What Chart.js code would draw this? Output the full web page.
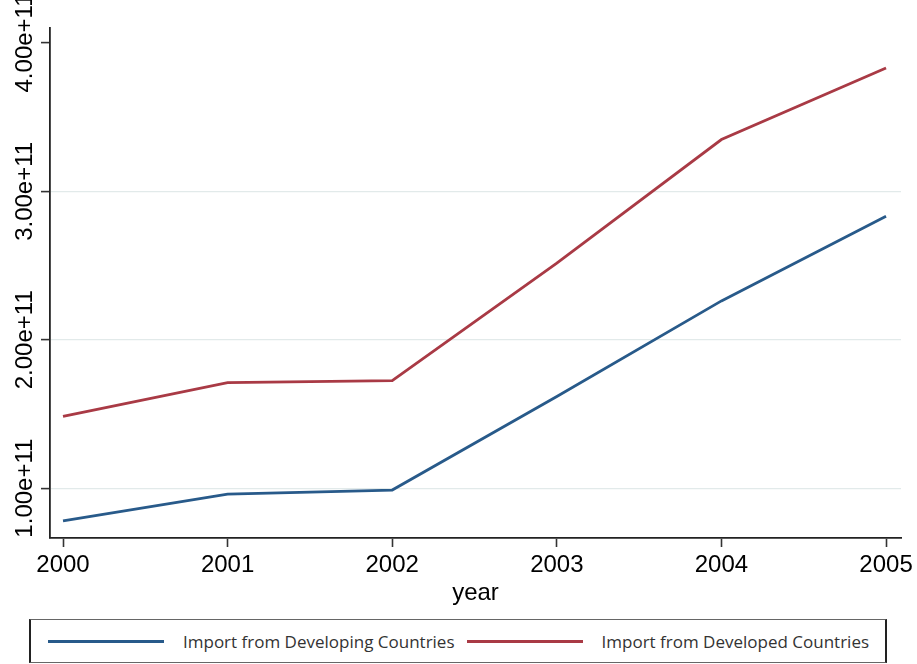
<!DOCTYPE html>
<html>
<head>
<meta charset="utf-8">
<title>Imports</title>
<script src="https://cdn.jsdelivr.net/npm/chart.js"></script>
<style>
  body { margin: 0; background: #fff; }
  #wrap { position: relative; width: 917px; height: 612px; }
  #legend {
    position: absolute; left: 29px; top: 619px; width: 858px; height: 44px;
    box-sizing: border-box; border: 1px solid #666; border-left: 2px solid #222; border-right: 2px solid #222;
    display: flex; align-items: center; padding-left: 17px;
    font-family: "Open Sans", sans-serif; font-size: 17px; color: #333;
  }
  #legend .item { display: flex; align-items: center; margin-right: 12px; }
  #legend .swatch { width: 116px; height: 3px; margin-right: 19px; }
</style>
</head>
<body>
<div id="wrap"><canvas id="chart"></canvas></div>
<div id="legend"></div>
<script>
// values
const years = [2000, 2001, 2002, 2003, 2004, 2005];
const developing = [0.779e11, 0.96e11, 0.987e11, 1.617e11, 2.262e11, 2.832e11];
const developed = [1.483e11, 1.711e11, 1.725e11, 2.517e11, 3.349e11, 3.832e11];
const yTicks = [1e11, 2e11, 3e11, 4e11];
const seriesNames = ['Import from Developing Countries', 'Import from Developed Countries'];

const blue = '#285a8a';
const red = '#a93a45';

function pairs(vals) {
  return years.map((yr, i) => ({ x: yr, y: vals[i] }));
}

// y labels in this chart are turned on their side
const sideLabels = {
  id: 'sideLabels',
  afterDraw(chart) {
    const ctx = chart.ctx;
    const y = chart.scales.y;
    ctx.save();
    ctx.font = '24px "Liberation Sans", Arial, sans-serif';
    ctx.fillStyle = '#000';
    ctx.textAlign = 'center';
    ctx.textBaseline = 'middle';
    y.ticks.forEach(t => {
      const py = y.getPixelForValue(t.value);
      ctx.save();
      ctx.translate(25, py);
      ctx.rotate(-Math.PI / 2);
      ctx.fillText(t.value.toExponential(2), 0, 0);
      ctx.restore();
    });
    ctx.restore();
  }
};

const chart = new Chart(document.getElementById('chart'), {
  type: 'line',
  data: {
    datasets: [
      { label: seriesNames[0], data: pairs(developing), borderColor: blue, backgroundColor: blue, borderWidth: 2.8, pointRadius: 0, tension: 0 },
      { label: seriesNames[1], data: pairs(developed), borderColor: red, backgroundColor: red, borderWidth: 2.8, pointRadius: 0, tension: 0 }
    ]
  },
  options: {
    responsive: true,
    maintainAspectRatio: false,
    animation: false,
    layout: { padding: { left: 0, right: 15, top: 28, bottom: 0 } },
    plugins: { legend: { display: false }, tooltip: { enabled: false } },
    scales: {
      x: {
        type: 'linear',
        min: 1999.921,
        max: 2005.091,
        afterBuildTicks: s => { s.ticks = years.map(v => ({ value: v })); },
        afterFit: s => { s.height = 74; },
        ticks: {
          callback: v => String(v),
          font: { family: '"Liberation Sans", Arial, sans-serif', size: 24 },
          color: '#000',
          padding: 4,
          maxRotation: 0
        },
        grid: { drawOnChartArea: false, drawTicks: true, tickLength: 9, tickColor: '#333', tickWidth: 1.6 },
        border: { display: true, color: '#222', width: 1.8 },
        title: {
          display: true, text: 'year', color: '#000',
          font: { family: '"Liberation Sans", Arial, sans-serif', size: 24 },
          padding: { top: 0, bottom: 4 }
        }
      },
      y: {
        min: 0.664e11,
        max: 4.101e11,
        afterBuildTicks: s => { s.ticks = yTicks.map(v => ({ value: v })); },
        afterFit: s => { s.width = 50; },
        ticks: { display: false },
        grid: {
          color: ctx => (ctx.tick && ctx.tick.value === 4e11) ? 'rgba(0,0,0,0)' : '#e2eaea',
          lineWidth: 1.2,
          drawTicks: true, tickLength: 9, tickColor: '#333', tickWidth: 1.6
        },
        border: { display: true, color: '#222', width: 1.8 }
      }
    }
  },
  plugins: [sideLabels]
});

// legend box under the chart
const legendEl = document.getElementById('legend');
chart.data.datasets.forEach(ds => {
  const item = document.createElement('div');
  item.className = 'item';
  const sw = document.createElement('span');
  sw.className = 'swatch';
  sw.style.background = ds.borderColor;
  const txt = document.createElement('span');
  txt.textContent = ds.label;
  item.appendChild(sw);
  item.appendChild(txt);
  legendEl.appendChild(item);
});
</script>
</body>
</html>
